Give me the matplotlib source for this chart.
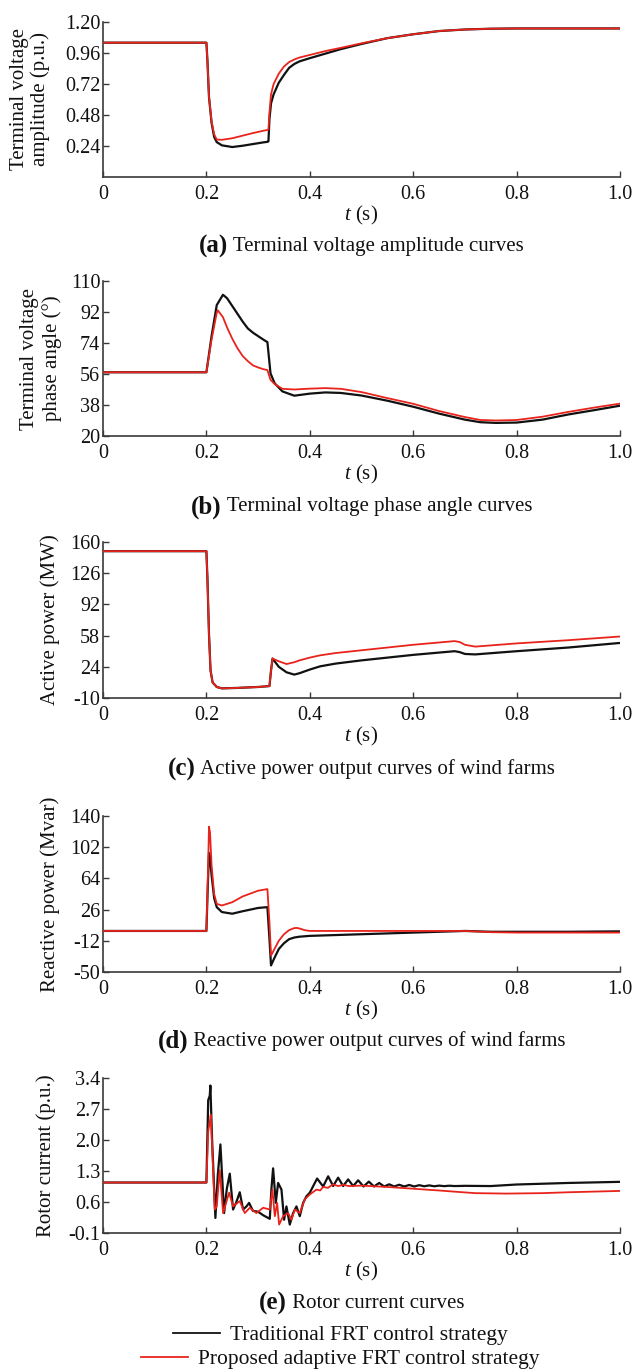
import numpy as np
import matplotlib
matplotlib.use("Agg")
import matplotlib.pyplot as plt
from matplotlib.lines import Line2D

plt.rcParams['font.family'] = ['Liberation Serif', 'DejaVu Serif']
plt.rcParams['mathtext.fontset'] = 'custom'
plt.rcParams['mathtext.rm'] = 'Liberation Serif'
plt.rcParams['mathtext.it'] = 'Liberation Serif:italic'

# ---------------- data ----------------
# (a) terminal voltage amplitude (p.u.)
t_a = [0, 0.2, 0.202, 0.205, 0.21, 0.215, 0.22, 0.23, 0.25, 0.27, 0.29, 0.31, 0.318, 0.32,
       0.322, 0.325, 0.33, 0.34, 0.35, 0.36, 0.37, 0.38, 0.4, 0.43, 0.46, 0.5, 0.55, 0.6, 0.65,
       0.7, 0.75, 0.8, 0.9, 1.0]
va_trad = [1.04, 1.04, 0.9, 0.62, 0.42, 0.31, 0.27, 0.245, 0.232, 0.242, 0.255, 0.268, 0.272, 0.276,
           0.45, 0.57, 0.64, 0.73, 0.79, 0.845, 0.875, 0.895, 0.92, 0.955, 0.99, 1.03, 1.075, 1.105, 1.13,
           1.142, 1.148, 1.15, 1.15, 1.15]
va_prop = [1.04, 1.04, 0.9, 0.62, 0.43, 0.33, 0.29, 0.288, 0.3, 0.32, 0.34, 0.358, 0.364, 0.366,
           0.5, 0.64, 0.72, 0.8, 0.855, 0.89, 0.91, 0.925, 0.945, 0.975, 1.0, 1.035, 1.075, 1.105, 1.13,
           1.142, 1.148, 1.15, 1.15, 1.15]

# (b) terminal voltage phase angle (deg)
t_b = [0, 0.2, 0.21, 0.22, 0.222, 0.232, 0.24, 0.25, 0.26, 0.27, 0.28, 0.29, 0.3, 0.31, 0.318,
       0.324, 0.332, 0.347, 0.37, 0.4, 0.43, 0.46, 0.5, 0.55, 0.6, 0.65, 0.7, 0.73, 0.76, 0.8,
       0.85, 0.9, 0.95, 1.0]
ang_trad = [57, 57, 78, 96, 97, 102, 100, 95.5, 91, 86.5, 82.5, 80, 78, 76, 74.5,
            56.4, 50.6, 45.9, 43.4, 44.6, 45.3, 45.0, 43.5, 40.5, 37, 33, 29.5, 28, 27.6, 27.8,
            29.5, 32.5, 35, 37.6]
ang_prop = [57, 57, 76, 91.5, 93, 89, 83, 76.5, 71, 66.5, 63.5, 61, 59.8, 58.8, 58.3,
            52.6, 50.2, 47.4, 47.0, 47.5, 47.8, 47.4, 45.5, 42, 38.7, 34.5, 31, 29.3, 29, 29.3,
            31.2, 34, 36.5, 38.8]

# (c) active power (MW)
t_c = [0, 0.2, 0.202, 0.205, 0.208, 0.212, 0.22, 0.23, 0.26, 0.3, 0.322, 0.325, 0.328, 0.34,
       0.355, 0.37, 0.38, 0.4, 0.42, 0.45, 0.5, 0.6, 0.68, 0.69, 0.7, 0.72, 0.8, 0.9, 1.0]
p_trad = [150, 150, 120, 60, 20, 7, 2, 0.5, 1, 2, 3, 20, 33, 24,
          18, 15.5, 17, 21, 24.5, 27.5, 31, 37, 41, 40, 38, 37.5, 41, 45, 50]
p_prop = [150, 150, 120, 60, 20, 7, 2, 0.5, 1, 2, 3, 20, 33, 30,
          27, 29, 31, 34, 36.5, 39, 42, 48, 52, 51, 48, 46, 49.5, 53, 57]

# (d) reactive power (Mvar)
t_d = [0, 0.2, 0.203, 0.205, 0.207, 0.21, 0.215, 0.22, 0.23, 0.25, 0.27, 0.3, 0.318, 0.322,
       0.325, 0.33, 0.34, 0.35, 0.36, 0.37, 0.375, 0.38, 0.39, 0.4, 0.5, 0.6, 0.7, 0.75, 0.8,
       0.9, 1.0]
q_trad = [0, 0, 60, 95, 90, 68, 40, 29, 23, 21, 24, 28, 29, -10,
          -42, -35, -22, -15, -10, -8, -7.5, -7, -6.5, -6, -4, -2, 0, -1, -1,
          -1, -0.5]
q_prop = [0, 0, 70, 127, 120, 80, 45, 33, 31, 35, 42, 49, 51, 10,
          -30, -24, -12, -4, 1, 3.5, 3.7, 3, 1, 0, 0, 0, 0, -1.5, -2,
          -2, -2]

# (e) rotor current (p.u.)
t_e_trad = [0, 0.2, 0.2035, 0.2065, 0.2077, 0.211, 0.2174, 0.222, 0.2271, 0.2342, 0.2395,
            0.2452, 0.2516, 0.258, 0.2645, 0.271, 0.2775, 0.2826, 0.29, 0.3, 0.31, 0.3226,
            0.3258, 0.329, 0.3342, 0.3387, 0.3452, 0.3503, 0.3548, 0.3613, 0.3677, 0.3742,
            0.3806, 0.3871, 0.3935, 0.4, 0.4097, 0.4142, 0.4258, 0.4355, 0.4452, 0.4548,
            0.4645, 0.4742, 0.4839, 0.4935, 0.5039, 0.5142, 0.5242, 0.5342, 0.5439, 0.5535,
            0.5632, 0.5729, 0.5826, 0.5923, 0.602, 0.6116, 0.6213, 0.631, 0.6406, 0.6503,
            0.66, 0.6697, 0.68, 0.7, 0.75, 0.8, 0.9, 1.0]
ir_trad = [1.04, 1.04, 2.9, 3.0, 3.23, 2.0, 0.24, 1.2, 1.9, 0.35, 0.9,
           1.24, 0.43, 0.6, 0.82, 0.43, 0.5, 0.58, 0.4, 0.38, 0.3, 0.22,
           0.9, 1.36, 0.58, 1.03, 0.88, 0.2, 0.5, 0.09, 0.35, 0.5,
           0.28, 0.58, 0.73, 0.81, 1.03, 1.13, 0.95, 1.18, 0.96, 1.15,
           0.96, 1.11, 0.96, 1.09, 0.95, 1.06, 0.95, 1.03, 0.95, 1.0,
           0.95, 0.99, 0.95, 0.985, 0.95, 0.98, 0.955, 0.975, 0.955, 0.97,
           0.958, 0.968, 0.96, 0.965, 0.96, 0.995, 1.03, 1.055]
t_e_prop = [0, 0.2, 0.2035, 0.2065, 0.2084, 0.212, 0.2161, 0.22, 0.2258, 0.2323, 0.2439,
            0.2516, 0.2645, 0.2742, 0.2839, 0.2968, 0.3097, 0.3226, 0.3277, 0.3323, 0.3368,
            0.3406, 0.3484, 0.3581, 0.3645, 0.371, 0.3806, 0.3903, 0.4, 0.4129, 0.42, 0.4258,
            0.435, 0.445, 0.455, 0.465, 0.475, 0.5, 0.55, 0.6, 0.65, 0.684, 0.72, 0.78, 0.85,
            0.9, 1.0]
ir_prop = [1.04, 1.04, 2.2, 2.4, 2.57, 1.6, 0.43, 0.5, 1.32, 0.35, 0.81,
           0.5, 0.62, 0.35, 0.47, 0.35, 0.47, 0.43, 0.88, 0.28, 0.58,
           0.09, 0.28, 0.35, 0.2, 0.43, 0.35, 0.66, 0.77, 0.88, 0.86, 0.94,
           0.92, 1.0, 0.96, 0.99, 0.96, 0.97, 0.94, 0.9, 0.86, 0.83, 0.8, 0.79, 0.8,
           0.82, 0.85]

x_ticks = [0, 0.2, 0.4, 0.6, 0.8, 1.0]
x_ticklabels = ['0', '0.2', '0.4', '0.6', '0.8', '1.0']

panels = [
    dict(t1=t_a, y1=va_trad, t2=t_a, y2=va_prop, ylim=(0, 1.2),
         yticks=[0.24, 0.48, 0.72, 0.96, 1.20], yticklabels=['0.24', '0.48', '0.72', '0.96', '1.20'],
         ylabel='Terminal voltage\namplitude (p.u.)', letter='(a)',
         caption='Terminal voltage amplitude curves'),
    dict(t1=t_b, y1=ang_trad, t2=t_b, y2=ang_prop, ylim=(20, 110),
         yticks=[20, 38, 56, 74, 92, 110], yticklabels=['20', '38', '56', '74', '92', '110'],
         ylabel='Terminal voltage\nphase angle (°)', letter='(b)',
         caption='Terminal voltage phase angle curves'),
    dict(t1=t_c, y1=p_trad, t2=t_c, y2=p_prop, ylim=(-10, 160),
         yticks=[-10, 24, 58, 92, 126, 160], yticklabels=['-10', '24', '58', '92', '126', '160'],
         ylabel='Active power (MW)', letter='(c)',
         caption='Active power output curves of wind farms'),
    dict(t1=t_d, y1=q_trad, t2=t_d, y2=q_prop, ylim=(-50, 140),
         yticks=[-50, -12, 26, 64, 102, 140], yticklabels=['-50', '-12', '26', '64', '102', '140'],
         ylabel='Reactive power (Mvar)', letter='(d)',
         caption='Reactive power output curves of wind farms'),
    dict(t1=t_e_trad, y1=ir_trad, t2=t_e_prop, y2=ir_prop, ylim=(-0.1, 3.4),
         yticks=[-0.1, 0.6, 1.3, 2.0, 2.7, 3.4], yticklabels=['-0.1', '0.6', '1.3', '2.0', '2.7', '3.4'],
         ylabel='Rotor current (p.u.)', letter='(e)',
         caption='Rotor current curves'),
]

series_names = ['Traditional FRT control strategy', 'Proposed adaptive FRT control strategy']
series_colors = ['#111111', '#e8231c']

# ---------------- layout (pixels) ----------------
W, H = 633, 1372
fig = plt.figure(figsize=(W / 100, H / 100), dpi=100)
left_px, right_px = 103, 620
tops = [22, 281, 542, 816, 1078]
bottoms = [177, 436, 698, 972, 1233]
ylabel_x = [30, 41, 50, 50, 46]
caption_off = [69, 71, 71, 69, 70]

AX_COLOR = '#3a3a3a'
renderer = fig.canvas.get_renderer()

for i, p in enumerate(panels):
    ax = fig.add_axes([left_px / W, 1 - bottoms[i] / H,
                       (right_px - left_px) / W, (bottoms[i] - tops[i]) / H])
    ax.plot(p['t1'], p['y1'], color=series_colors[0], lw=1.6, zorder=2)
    ax.plot(p['t2'], p['y2'], color=series_colors[1], lw=1.3, zorder=3)
    ax.set_xlim(0, 1.0)
    ax.set_ylim(*p['ylim'])
    ax.set_xticks(x_ticks)
    ax.set_xticklabels(x_ticklabels)
    ax.set_yticks(p['yticks'])
    ax.set_yticklabels(p['yticklabels'])
    for s in ['top', 'right']:
        ax.spines[s].set_visible(False)
    for s in ['left', 'bottom']:
        ax.spines[s].set_color(AX_COLOR)
        ax.spines[s].set_linewidth(1.2)
    ax.tick_params(axis='both', direction='in', length=4, width=1.0, color=AX_COLOR,
                   labelsize=14.5, labelcolor='#111111')
    ax.tick_params(axis='y', pad=2)
    ax.tick_params(axis='x', pad=6)
    ax.set_xlabel(r'$t$ (s)', fontsize=15, labelpad=0, color='#111111')
    ax.set_ylabel(p['ylabel'], fontsize=15, color='#111111', va='center',
                  linespacing=1.15)
    ax.yaxis.set_label_coords((ylabel_x[i] - left_px) / (right_px - left_px), 0.5)

    # caption: bold letter + text, centred under axis
    cy = 1 - (bottoms[i] + caption_off[i]) / H
    t1 = fig.text(0, cy, p['letter'], fontsize=18, fontweight='bold', va='center', ha='left',
                  color='#111111')
    t2 = fig.text(0, cy, ' ' + p['caption'], fontsize=15, va='center', ha='left',
                  color='#111111')
    w1 = t1.get_window_extent(renderer).width
    w2 = t2.get_window_extent(renderer).width
    cx = (left_px + right_px) / 2
    x0 = cx - (w1 + w2) / 2
    t1.set_x(x0 / W)
    t2.set_x((x0 + w1) / W)

# legend: two entries, each centred
leg_y = [1335, 1359]
for name, col, ly in zip(series_names, series_colors, leg_y):
    h = Line2D([], [], color=col, lw=1.3)
    lg = fig.legend([h], [name], loc='center', bbox_to_anchor=(340 / W, 1 - ly / H),
                    frameon=False, fontsize=15.5, handlelength=2.2, handletextpad=0.45,
                    borderpad=0, borderaxespad=0)
    for txt in lg.get_texts():
        txt.set_color('#111111')

fig.savefig('out.png', dpi=100)
